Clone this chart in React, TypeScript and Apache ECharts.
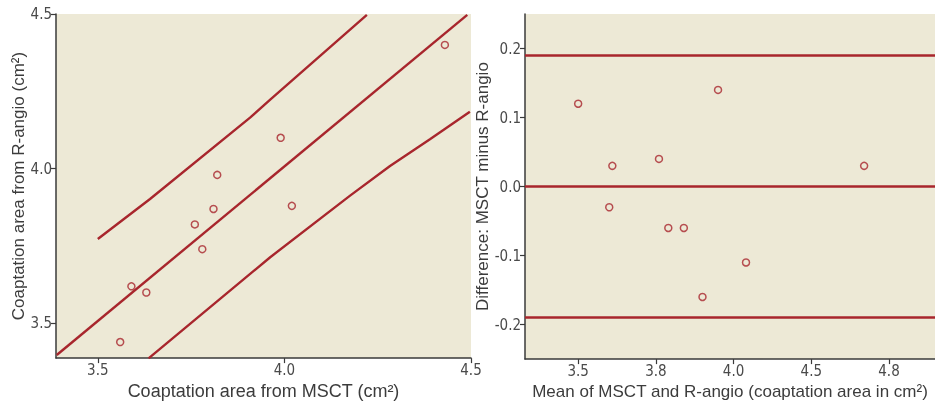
import React, { useEffect, useRef } from "react";
import * as echarts from "echarts";

// Left panel: MSCT vs R-angio
const scatterMSCT = [3.56, 3.59, 3.63, 3.76, 3.78, 3.81, 3.82, 3.99, 4.02, 4.43];
const scatterRAngio = [3.44, 3.62, 3.6, 3.82, 3.74, 3.87, 3.98, 4.1, 3.88, 4.4];
const fitLine = [
  [3.39, 3.398],
  [4.49, 4.497],
];
const upperBand = [
  [3.5, 3.773],
  [3.64, 3.902],
  [3.908, 4.165],
  [3.962, 4.223],
  [4.221, 4.497],
];
const lowerBand = [
  [3.636, 3.387],
  [3.962, 3.714],
  [4.176, 3.913],
  [4.283, 4.009],
  [4.39, 4.095],
  [4.497, 4.184],
];
const leftTicks = [3.5, 4.0, 4.5];

// Right panel: Bland-Altman
const baMean = [3.5, 3.6, 3.61, 3.76, 3.79, 3.84, 3.9, 3.95, 4.04, 4.42];
const baDiff = [0.12, -0.03, 0.03, 0.04, -0.06, -0.06, -0.16, 0.14, -0.11, 0.03];
const meanDifference = 0;
const upperLimit = 0.187;
const lowerLimit = -0.186;
const rightXTickValues = [3.5, 3.75, 4.0, 4.25, 4.5];
const rightXTickLabels = ["3.5", "3.8", "4.0", "4.5", "4.8"];
const rightYTicks = [-0.2, -0.1, 0, 0.1, 0.2];

const RED = "#a8262d";
const BG = "#ede9d6";
const AXIS = "#3a3a3a";
const TICK_FONT = "'Liberation Sans Narrow', 'DejaVu Sans Condensed', sans-serif";
const NAME_FONT = "'Liberation Sans', Arial, sans-serif";

export default function App() {
  const ref = useRef<HTMLDivElement>(null);
  useEffect(() => {
    document.body.style.margin = "0";
    const chart = echarts.init(ref.current!, null, { renderer: "svg" });
    const axisCommon = {
      axisLine: { show: true, onZero: false, lineStyle: { color: AXIS, width: 1.5 } },
      axisTick: { show: true, length: 5, lineStyle: { color: AXIS, width: 1.2 } },
      splitLine: { show: false },
      nameLocation: "middle" as const,
    };
    const nameStyle = (size: number) => ({ fontFamily: NAME_FONT, fontSize: size, color: "#3c3c3c" });
    const labelCommon = {
      fontFamily: TICK_FONT,
      fontSize: 15,
      color: "#4a4a4a",
    };
    const lineCommon = {
      type: "line",
      xAxisIndex: 0,
      yAxisIndex: 0,
      showSymbol: false,
      smooth: false,
      lineStyle: { color: RED, width: 2.4 },
    };
    chart.setOption({
      animation: false,
      grid: [
        { left: 56, top: 14, width: 415, height: 346, show: true, backgroundColor: BG, borderWidth: 0 },
        { left: 525, top: 14, width: 410, height: 346, show: true, backgroundColor: BG, borderWidth: 0 },
      ],
      xAxis: [
        {
          ...axisCommon,
          gridIndex: 0,
          type: "value",
          min: 3.388,
          max: 4.5,
          name: "Coaptation area from MSCT (cm²)",
          nameGap: 21,
          nameTextStyle: nameStyle(18),
          axisTick: { ...axisCommon.axisTick, customValues: leftTicks },
          axisLabel: { ...labelCommon, margin: 4, customValues: leftTicks, formatter: (v: number) => v.toFixed(1) },
        },
        {
          ...axisCommon,
          gridIndex: 1,
          type: "value",
          min: 3.329,
          max: 4.648,
          name: "Mean of MSCT and R-angio (coaptation area in cm²)",
          nameGap: 21,
          nameTextStyle: nameStyle(17),
          axisTick: { ...axisCommon.axisTick, customValues: rightXTickValues },
          axisLabel: {
            ...labelCommon,
            margin: 4,
            customValues: rightXTickValues,
            formatter: (v: number) => {
              const i = rightXTickValues.findIndex((t) => Math.abs(t - v) < 1e-6);
              return i >= 0 ? rightXTickLabels[i] : "";
            },
          },
        },
      ],
      yAxis: [
        {
          ...axisCommon,
          gridIndex: 0,
          type: "value",
          min: 3.388,
          max: 4.5,
          name: "Coaptation area from R-angio (cm²)",
          nameGap: 28,
          nameTextStyle: nameStyle(17),
          axisTick: { ...axisCommon.axisTick, customValues: leftTicks },
          axisLabel: { ...labelCommon, margin: 4, customValues: leftTicks, formatter: (v: number) => v.toFixed(1) },
        },
        {
          ...axisCommon,
          gridIndex: 1,
          type: "value",
          min: -0.25,
          max: 0.25,
          name: "Difference: MSCT minus R-angio",
          nameGap: 33,
          nameTextStyle: nameStyle(17),
          axisTick: { ...axisCommon.axisTick, customValues: rightYTicks },
          axisLabel: { ...labelCommon, margin: 4, customValues: rightYTicks, formatter: (v: number) => v.toFixed(1) },
        },
      ],
      series: [
        { ...lineCommon, data: fitLine },
        { ...lineCommon, data: upperBand },
        { ...lineCommon, data: lowerBand },
        {
          type: "scatter",
          xAxisIndex: 0,
          yAxisIndex: 0,
          data: scatterMSCT.map((x, i) => [x, scatterRAngio[i]]),
          symbol: "circle",
          symbolSize: 7,
          itemStyle: { color: "rgba(0,0,0,0)", borderColor: RED, borderWidth: 1.5 },
          z: 5,
        },
        {
          type: "scatter",
          xAxisIndex: 1,
          yAxisIndex: 1,
          data: baMean.map((x, i) => [x, baDiff[i]]),
          symbol: "circle",
          symbolSize: 7,
          itemStyle: { color: "rgba(0,0,0,0)", borderColor: RED, borderWidth: 1.5 },
          z: 5,
          markLine: {
            silent: true,
            symbol: "none",
            label: { show: false },
            lineStyle: { color: RED, width: 2.6, type: "solid" },
            data: [{ yAxis: upperLimit }, { yAxis: meanDifference }, { yAxis: lowerLimit }],
          },
        },
      ],
    });
    return () => chart.dispose();
  }, []);
  return <div ref={ref} style={{ position: "fixed", left: 0, top: 0, width: 935, height: 405 }} />;
}
